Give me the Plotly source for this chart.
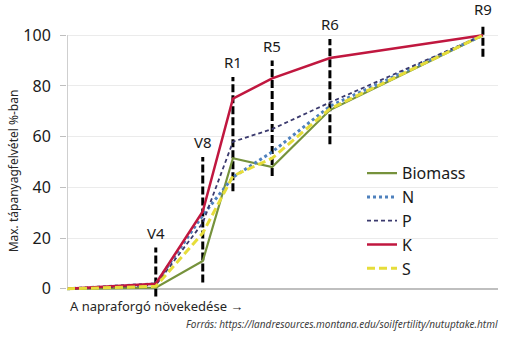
import plotly.graph_objects as go

# ---- data ----
stage_labels = ["V4", "V8", "R1", "R5", "R6", "R9"]
stage_pos = [20.6, 31.5, 38.5, 47.6, 61.0, 96.5]
stage_top = [16.3, 52.0, 83.5, 90.0, 98.5, 104.5]
stage_bottom = [-3.0, 2.5, 38.5, 44.5, 57.0, 91.5]

x_points = [0, 20.6, 31.5, 38.5, 47.6, 61.0, 96.5]
biomass = [0, 0.5, 11, 51.5, 48, 70.5, 100]
n_vals = [0, 2, 29, 44, 54, 72, 100]
p_vals = [0, 1.5, 26, 58, 63, 73.5, 100]
k_vals = [0, 2, 30.5, 75, 83, 91, 100]
s_vals = [0, 1, 22, 44.5, 51.5, 71, 100]

y_ticks = [0, 20, 40, 60, 80, 100]

FONT = "Noto Sans"

fig = go.Figure()

# stage marker dashed lines
for sx, st, sb in zip(stage_pos, stage_top, stage_bottom):
    fig.add_trace(go.Scatter(x=[sx, sx], y=[sb, st], mode="lines",
                             line=dict(color="black", width=3, dash="8px,3px"),
                             showlegend=False, hoverinfo="skip"))

series = [
    ("Biomass", biomass, dict(color="#76923c", width=2.2, dash="solid")),
    ("N", n_vals, dict(color="#4f81bd", width=3, dash="dot")),
    ("P", p_vals, dict(color="#3b3a6e", width=1.8, dash="4px,3px")),
    ("K", k_vals, dict(color="#c0173f", width=2.5, dash="solid")),
    ("S", s_vals, dict(color="#e6dd3a", width=3, dash="8px,4px")),
]
for name, vals, ln in series:
    fig.add_trace(go.Scatter(x=x_points, y=vals, mode="lines", name=name, line=ln))

# stage labels
for lab, sx, st in zip(stage_labels, stage_pos, stage_top):
    fig.add_annotation(x=sx, y=st, text=lab, showarrow=False, xref="x", yref="y",
                       yanchor="bottom", yshift=3,
                       font=dict(family=FONT, size=15, color="#1a1a1a"))

# y-axis line from 0 to 100
fig.add_shape(type="line", xref="x", yref="y", x0=0, x1=0, y0=0, y1=100,
              line=dict(color="#bfbfbf", width=1.5))

fig.add_annotation(text="Max. tápanyagfelvétel %-ban", textangle=-90, showarrow=False,
                   xref="paper", yref="paper", x=-0.125, y=0.458,
                   xanchor="center", yanchor="middle",
                   font=dict(family=FONT, size=12, color="#262626"))
fig.add_annotation(text="A napraforgó növekedése →", showarrow=False,
                   xref="paper", yref="paper", x=0.002, y=-0.0255,
                   xanchor="left", yanchor="middle",
                   font=dict(family=FONT, size=13, color="#262626"))
fig.add_annotation(text="<i>Forrás: https://landresources.montana.edu/soilfertility/nutuptake.html</i>",
                   showarrow=False, xref="paper", yref="paper", x=1.0046, y=-0.091,
                   xanchor="right", yanchor="middle",
                   font=dict(family=FONT, size=10, color="#404040"))

fig.update_layout(
    width=511, height=337,
    margin=dict(l=67, r=13, t=20, b=38.4),
    paper_bgcolor="white", plot_bgcolor="white",
    font=dict(family=FONT),
    xaxis=dict(range=[0, 100], showgrid=False, zeroline=False, showline=False,
               showticklabels=False, ticks=""),
    yaxis=dict(range=[-4, 106], tickvals=y_ticks, showgrid=True, gridcolor="#ebebeb",
               gridwidth=1, zeroline=True, zerolinecolor="#bfbfbf", zerolinewidth=1.5,
               showline=False, ticks="outside", ticklen=6, tickcolor="#bfbfbf",
               ticklabelstandoff=6,
               tickfont=dict(family=FONT, size=16, color="#1a1a1a")),
    legend=dict(x=(362 - 67) / 431, y=(298.6 - 156) / 278.6, xanchor="left", yanchor="top",
                bgcolor="rgba(0,0,0,0)",
                font=dict(family=FONT, size=16, color="#1a1a1a")),
    showlegend=True,
)

fig.write_html("out.html")
